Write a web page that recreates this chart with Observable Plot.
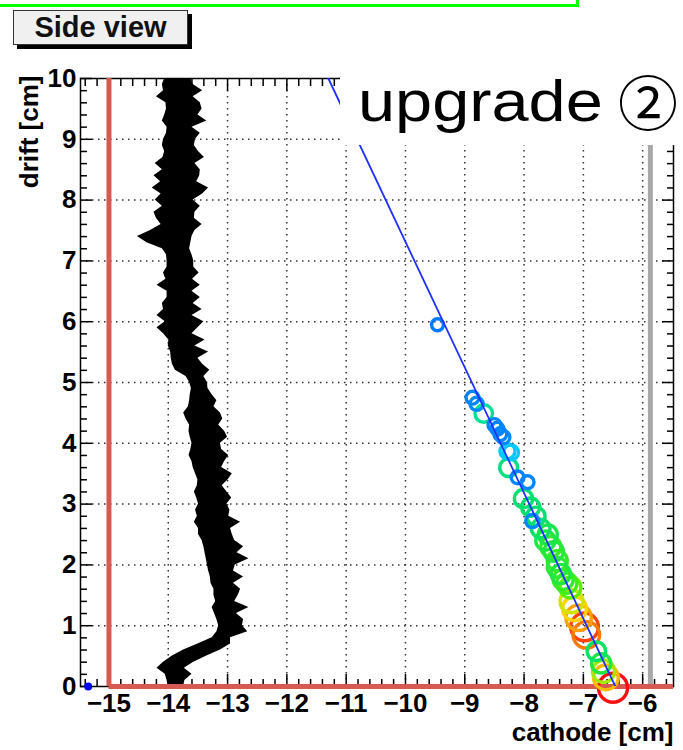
<!DOCTYPE html>
<html><head><meta charset="utf-8">
<script src="https://cdn.jsdelivr.net/npm/d3@7"></script>
<script src="https://cdn.jsdelivr.net/npm/@observablehq/plot@0.6"></script>
<style>
body{margin:0;background:#fff;}
#wrap{position:relative;width:683px;height:750px;overflow:hidden;font-family:"Liberation Sans",Arial,sans-serif;}
#chart{position:absolute;left:0;top:0;}
#green{position:absolute;left:0;top:0;width:576px;height:4px;border-bottom:3px solid #00ff00;border-right:3px solid #00ff00;}
#btn{position:absolute;left:13px;top:10px;width:173px;height:33px;background:#f0f0f0;border:1px solid #333;box-shadow:4px 4px 0 #000;font-weight:bold;font-size:29px;line-height:33px;text-align:center;color:#111;}
#upg{position:absolute;left:340px;top:60px;width:343px;height:85px;background:#fff;}
#upg .t{position:absolute;left:18px;top:13px;font-size:57px;line-height:57px;color:#000;white-space:nowrap;transform:scaleX(1.17);transform-origin:left center;}
#upg .c{position:absolute;left:278px;top:10px;font-size:60px;line-height:60px;color:#000;font-family:"Noto Sans CJK JP","DejaVu Sans",sans-serif;}
</style></head>
<body><div id="wrap"><div id="chart"></div>
<div id="green"></div>
<div id="btn">Side view</div>
<div id="upg"><span class="t">upgrade</span><span class="c">②</span></div>
</div>
<script>
// axis ticks
const majorX = [-15, -14, -13, -12, -11, -10, -9, -8, -7, -6];
const minorX = [-15.4, -15.2, -14.8, -14.6, -14.4, -14.2, -13.8, -13.6, -13.4, -13.2, -12.8, -12.6, -12.4, -12.2, -11.8, -11.6, -11.4, -11.2, -10.8, -10.6, -10.4, -10.2, -9.8, -9.6, -9.4, -9.2, -8.8, -8.6, -8.4, -8.2, -7.8, -7.6, -7.4, -7.2, -6.8, -6.6, -6.4, -6.2, -5.8, -5.6];
const majorY = [0, 1, 2, 3, 4, 5, 6, 7, 8, 9, 10];
const minorY = [0.2, 0.4, 0.6, 0.8, 1.2, 1.4, 1.6, 1.8, 2.2, 2.4, 2.6, 2.8, 3.2, 3.4, 3.6, 3.8, 4.2, 4.4, 4.6, 4.8, 5.2, 5.4, 5.6, 5.8, 6.2, 6.4, 6.6, 6.8, 7.2, 7.4, 7.6, 7.8, 8.2, 8.4, 8.6, 8.8, 9.2, 9.4, 9.6, 9.8];
const xDomain = [-15.48, -5.48];
const yDomain = [0, 10];

// boundary lines
const redX = -15;
const redY = 0;
const grayX = -5.87;

// pulse waveform (drift vs cathode envelope)
const pulseY = [0.0,0.1,0.2,0.3,0.4,0.5,0.6,0.7,0.8,0.9,1.0,1.1,1.2,1.3,1.4,1.5,1.6,1.7,1.8,1.9,2.0,2.1,2.2,2.3,2.4,2.5,2.6,2.7,2.8,2.9,3.0,3.1,3.2,3.3,3.4,3.5,3.6,3.7,3.8,3.9,4.0,4.1,4.2,4.3,4.4,4.5,4.6,4.7,4.8,4.9,5.0,5.1,5.2,5.3,5.4,5.5,5.6,5.7,5.8,5.9,6.0,6.1,6.2,6.3,6.4,6.5,6.6,6.7,6.8,6.9,7.0,7.1,7.2,7.3,7.4,7.5,7.6,7.7,7.8,7.9,8.0,8.1,8.2,8.3,8.4,8.5,8.6,8.7,8.8,8.9,9.0,9.1,9.2,9.3,9.4,9.5,9.6,9.7,9.8,9.9,10.0];
const pulseLeft = [-14.00,-14.02,-14.05,-14.19,-14.08,-13.93,-13.74,-13.50,-13.26,-13.18,-13.15,-13.18,-13.22,-13.26,-13.20,-13.23,-13.23,-13.28,-13.29,-13.32,-13.34,-13.36,-13.38,-13.40,-13.43,-13.49,-13.49,-13.56,-13.51,-13.54,-13.49,-13.52,-13.56,-13.51,-13.50,-13.54,-13.58,-13.60,-13.65,-13.62,-13.60,-13.63,-13.65,-13.64,-13.70,-13.74,-13.66,-13.64,-13.63,-13.61,-13.64,-13.70,-13.88,-13.93,-13.95,-13.96,-14.00,-13.99,-14.08,-14.19,-14.05,-14.19,-14.08,-14.10,-14.02,-14.02,-14.19,-14.04,-14.08,-14.02,-14.02,-14.03,-14.10,-14.36,-14.52,-14.30,-14.12,-14.20,-14.24,-14.10,-14.22,-14.12,-14.27,-14.13,-14.24,-14.10,-14.22,-14.09,-14.06,-14.10,-14.08,-14.03,-14.02,-14.10,-14.06,-14.03,-14.04,-14.20,-14.08,-14.10,-14.06];
const pulseRight = [-13.74,-13.72,-13.60,-13.73,-13.57,-13.35,-13.12,-12.95,-12.95,-12.66,-12.75,-12.73,-12.85,-12.64,-12.88,-12.82,-12.78,-12.90,-12.73,-12.90,-12.87,-12.64,-12.84,-12.73,-12.88,-12.92,-12.95,-12.78,-12.98,-12.96,-13.01,-12.93,-13.01,-13.09,-12.99,-12.92,-13.10,-13.05,-12.98,-13.10,-13.12,-13.00,-13.05,-13.15,-13.08,-13.12,-13.23,-13.18,-13.26,-13.33,-13.34,-13.40,-13.30,-13.42,-13.50,-13.32,-13.55,-13.38,-13.60,-13.50,-13.40,-13.60,-13.43,-13.58,-13.46,-13.60,-13.46,-13.59,-13.48,-13.57,-13.57,-13.60,-13.64,-13.62,-13.60,-13.55,-13.43,-13.56,-13.55,-13.46,-13.58,-13.42,-13.32,-13.52,-13.47,-13.46,-13.55,-13.39,-13.49,-13.56,-13.54,-13.46,-13.60,-13.35,-13.50,-13.43,-13.46,-13.58,-13.42,-13.58,-13.62];

// hits: cathode position, drift, relative charge
const hitX = [-9.46,-8.87,-8.80,-8.68,-8.50,-8.45,-8.40,-8.35,-8.28,-8.22,-8.26,-8.11,-7.94,-8.01,-7.89,-7.80,-7.86,-7.72,-7.64,-7.60,-7.55,-7.50,-7.44,-7.44,-7.38,-7.34,-7.28,-7.22,-7.20,-7.15,-7.08,-6.98,-6.95,-6.78,-6.70,-6.66,-6.62,-6.50];
const hitY = [5.95,4.75,4.65,4.49,4.30,4.24,4.15,4.10,3.87,3.85,3.60,3.44,3.36,3.09,2.95,2.80,2.72,2.60,2.40,2.50,2.30,2.22,2.07,1.96,1.85,1.76,1.70,1.63,1.40,1.28,1.13,0.98,0.85,0.58,0.38,0.25,0.15,-0.02];
const hitQ = [0.05,0.10,0.12,0.36,0.10,0.10,0.10,0.12,0.22,0.22,0.38,0.10,0.10,0.40,0.40,0.40,0.12,0.42,0.46,0.45,0.50,0.47,0.50,0.48,0.46,0.50,0.52,0.56,0.66,0.72,0.80,0.93,0.86,0.42,0.46,0.62,0.76,1.00];
const chargeStops = [0, 0.15, 0.25, 0.4, 0.55, 0.7, 0.85, 1.0];
const chargeColors = ["#0070ff", "#0090ff", "#00e0ff", "#00e070", "#50f000", "#ffe000", "#ff8000", "#ff1010"];

// track fit
const fitX = [-11.30, -6.46];
const fitY = [10, 0];

// lone marker
const markerX = [-15.35];
const markerY = [0];

const pulse = pulseY.map((y, i) => ({y, left: pulseLeft[i], right: pulseRight[i]}));
const hits = hitX.map((x, i) => ({x, y: hitY[i], q: hitQ[i]}));
const fit = fitX.map((x, i) => ({x, y: fitY[i]}));
const marker = markerX.map((x, i) => ({x, y: markerY[i]}));

const gridStyle = {stroke: "#333", strokeOpacity: 1, strokeWidth: 1.5, strokeDasharray: "1.5,4.5"};
const tickStyle = {stroke: "#000", strokeWidth: 1.5, fill: "none", label: null};

const chart = Plot.plot({
  width: 683, height: 750,
  marginLeft: 80, marginRight: 10, marginTop: 78, marginBottom: 64,
  x: {domain: xDomain},
  y: {domain: yDomain},
  color: {type: "linear", domain: chargeStops, range: chargeColors},
  r: {type: "linear", domain: [0, 1], range: [5.5, 14.5]},
  style: {fontFamily: "'Liberation Sans', Arial, sans-serif", fontWeight: "bold", fontSize: "26px", color: "#000", background: "#fff"},
  marks: [
    Plot.gridX(majorX.filter(v => v > redX), gridStyle),
    Plot.gridY(majorY.filter(v => v > 0 && v < 10), gridStyle),
    Plot.areaX(pulse, {y: "y", x1: "left", x2: "right", fill: "#000", curve: "linear"}),
    Plot.ruleX([grayX], {y1: yDomain[0], y2: yDomain[1], stroke: "#a8a8a8", strokeWidth: 5}),
    Plot.frame({stroke: "#000", strokeWidth: 1.5}),
    Plot.axisX(minorX, {...tickStyle, anchor: "bottom", tickSize: -7}),
    Plot.axisX(majorX, {...tickStyle, anchor: "bottom", tickSize: -12}),
    Plot.axisX(minorX, {...tickStyle, anchor: "top", tickSize: -7}),
    Plot.axisX(majorX, {...tickStyle, anchor: "top", tickSize: -12}),
    Plot.axisY(minorY, {...tickStyle, anchor: "left", tickSize: -7}),
    Plot.axisY(majorY, {...tickStyle, anchor: "left", tickSize: -12}),
    Plot.axisY(minorY, {...tickStyle, anchor: "right", tickSize: -7}),
    Plot.axisY(majorY, {...tickStyle, anchor: "right", tickSize: -12}),
    Plot.axisX(majorX, {anchor: "bottom", tickSize: 0, tickPadding: 7, label: null, tickFormat: "d", fontSize: 26, fontWeight: "bold"}),
    Plot.axisY(majorY, {anchor: "left", tickSize: 0, tickPadding: 4, label: null, tickFormat: "d", fontSize: 26, fontWeight: "bold"}),
    Plot.ruleX([redX], {y1: yDomain[0], y2: yDomain[1], stroke: "#d65a50", strokeWidth: 5}),
    Plot.ruleY([redY], {x1: redX, x2: xDomain[1], stroke: "#d65a50", strokeWidth: 5}),
    Plot.dot(hits, {x: "x", y: "y", r: "q", stroke: "q", strokeWidth: 3.4, fill: "none"}),
    Plot.line(fit, {x: "x", y: "y", stroke: "#2030ff", strokeWidth: 1.8, clip: true}),
    Plot.dot(marker, {x: "x", y: "y", r: 4, fill: "#0000ff"}),
    Plot.text(["cathode [cm]"], {frameAnchor: "bottom-right", textAnchor: "end", lineAnchor: "bottom", dy: 54, fontSize: 26, fontWeight: "bold"}),
    Plot.text(["drift [cm]"], {frameAnchor: "top-left", textAnchor: "end", rotate: -90, dx: -61, dy: -3, fontSize: 26, fontWeight: "bold"})
  ]
});
document.getElementById("chart").appendChild(chart);
</script>
</body></html>
